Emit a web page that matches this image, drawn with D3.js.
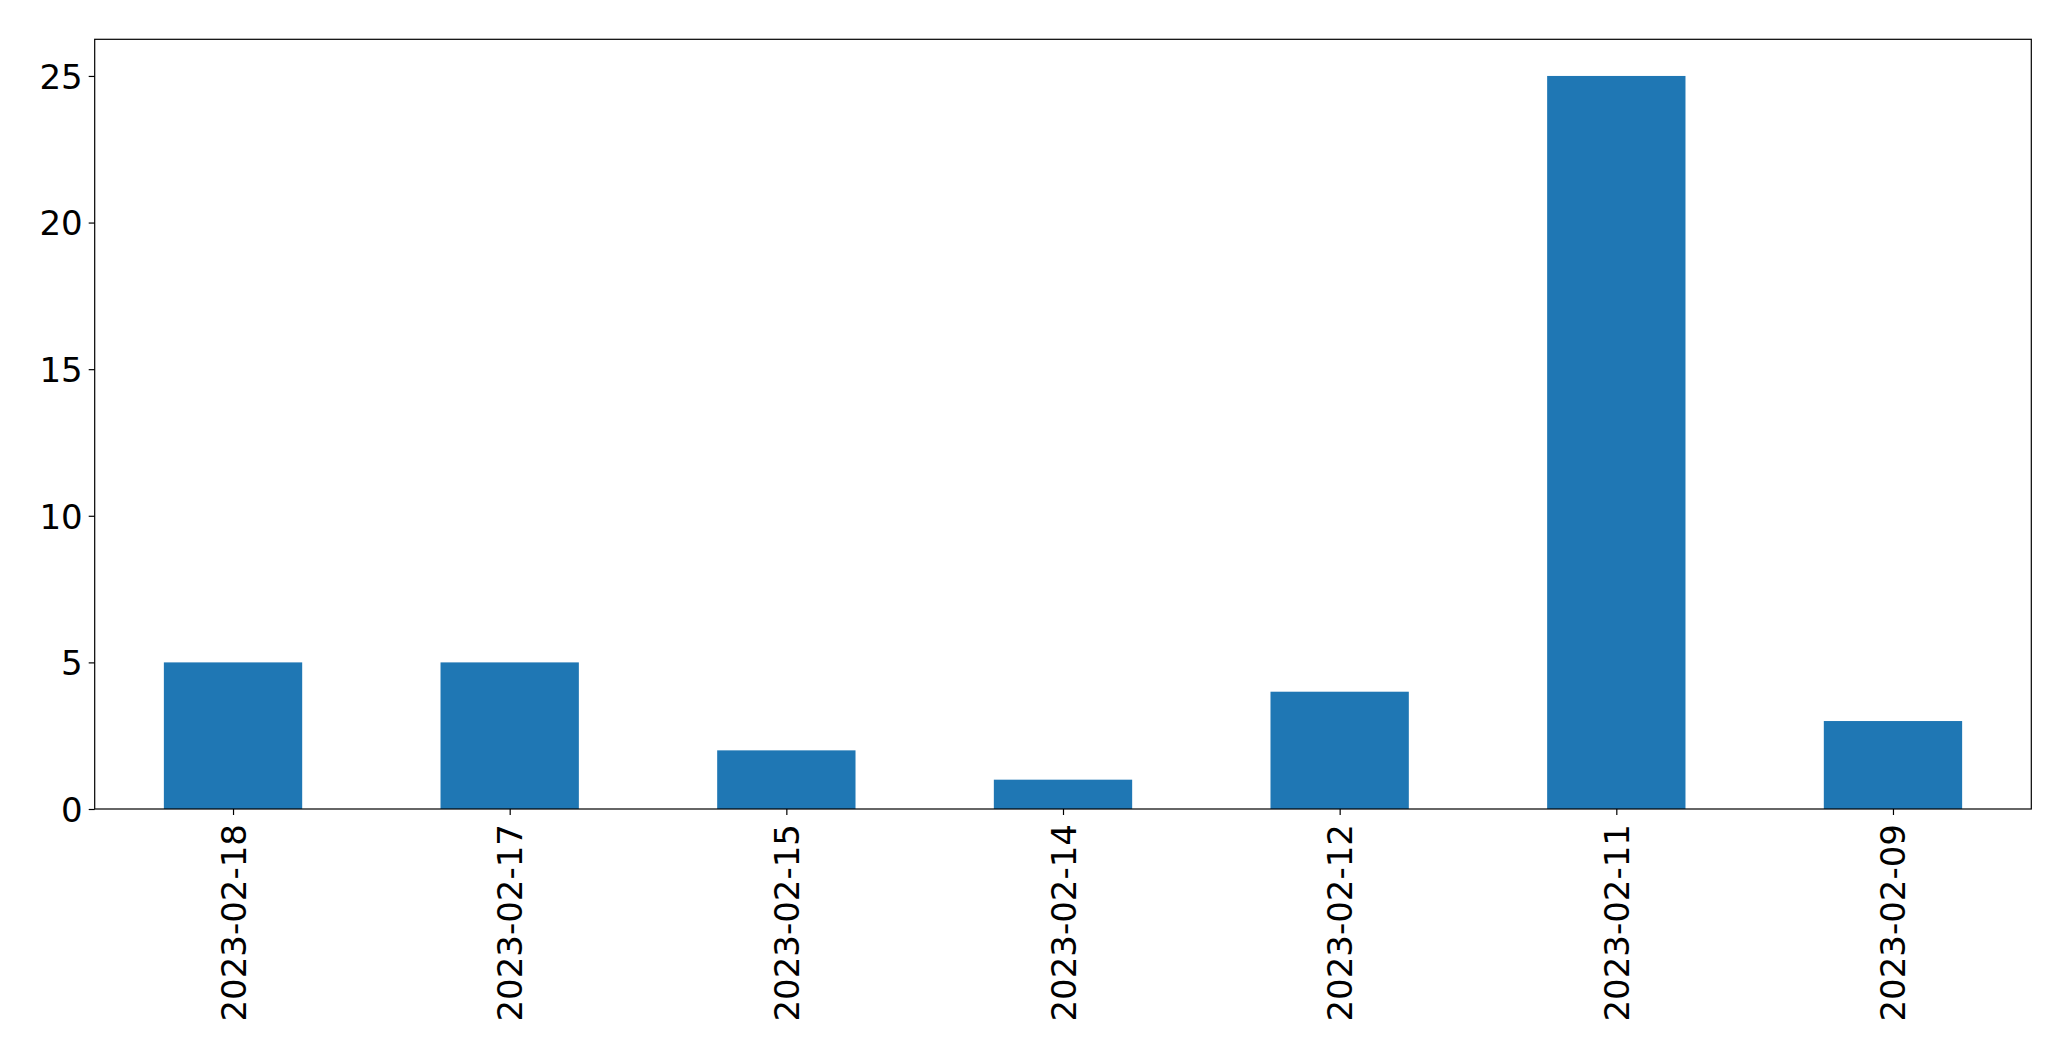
<!DOCTYPE html>
<html>
<head>
<meta charset="utf-8">
<script src="https://cdn.jsdelivr.net/npm/d3@7"></script>
<style>
  html, body { margin: 0; padding: 0; background: #fff; }
  svg { display: block; }
  text { font-family: "DejaVu Sans", sans-serif; fill: #000; }
</style>
</head>
<body>
<svg id="chart" width="2071" height="1061"></svg>
<script>
const categories = ["2023-02-18", "2023-02-17", "2023-02-15", "2023-02-14", "2023-02-12", "2023-02-11", "2023-02-09"];
const values = [5, 5, 2, 1, 4, 25, 3];
const yTicks = [0, 5, 10, 15, 20, 25];

(function () {
const W = 2071, H = 1061;
const mLeft = 94.7, mRight = 2031.3, mTop = 39.3, mBottom = 809;
const fontSize = 34;

const svg = d3.select("#chart");

const x = d3.scaleLinear().domain([-0.5, categories.length - 0.5]).range([mLeft, mRight]);
const y = d3.scaleLinear().domain([0, 26.25]).range([mBottom, mTop]);
const barW = 0.5;

// bars
svg.append("g").selectAll("rect")
  .data(values)
  .enter().append("rect")
  .attr("x", (d, i) => x(i - barW / 2))
  .attr("width", (d, i) => x(i + barW / 2) - x(i - barW / 2))
  .attr("y", d => y(d))
  .attr("height", d => y(0) - y(d))
  .attr("fill", "#1f77b4");

// y axis
const yAxis = d3.axisLeft(y).tickValues(yTicks).tickSize(6).tickPadding(6).tickFormat(d3.format("d"));
const gy = svg.append("g").attr("transform", `translate(${mLeft},0)`).call(yAxis);
gy.select(".domain").remove();
gy.selectAll(".tick line").attr("stroke", "#000").attr("stroke-width", 1.2);
gy.selectAll(".tick text")
  .attr("font-size", fontSize)
  .attr("font-family", "DejaVu Sans, sans-serif")
  .attr("fill", "#000")
  .attr("dy", "0.36em");

// x axis
const xAxis = d3.axisBottom(x).tickValues(d3.range(categories.length)).tickSize(6).tickPadding(0)
  .tickFormat(i => categories[i]);
const gx = svg.append("g").attr("transform", `translate(0,${mBottom})`).call(xAxis);
gx.select(".domain").remove();
gx.selectAll(".tick line").attr("stroke", "#000").attr("stroke-width", 1.2);
gx.selectAll(".tick text")
  .attr("font-size", fontSize)
  .attr("font-family", "DejaVu Sans, sans-serif")
  .attr("fill", "#000")
  .attr("text-anchor", "end")
  .attr("dy", null)
  .attr("y", null)
  .attr("dominant-baseline", "central")
  .attr("transform", "translate(0,15) rotate(-90)");

// frame
svg.append("rect")
  .attr("x", mLeft).attr("y", mTop)
  .attr("width", mRight - mLeft).attr("height", mBottom - mTop)
  .attr("fill", "none").attr("stroke", "#000").attr("stroke-width", 1.2);
})();
</script>
</body>
</html>
